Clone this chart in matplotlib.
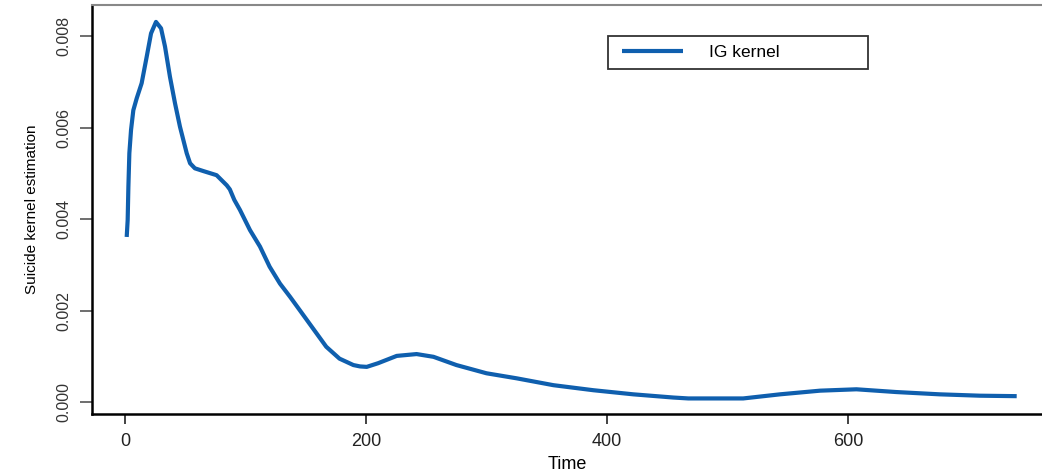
import matplotlib.pyplot as plt

# --- dane ---
time = [1.4, 2.2, 2.8, 3.6, 5, 6.9, 9.7, 13.8, 18, 21.6, 25.7, 29.9, 33.2,
        37.3, 41.5, 45.6, 51.2, 54, 58, 65, 76, 84.4, 87, 90.7, 95.4, 103.7,
        112, 120, 128.6, 137, 145, 156, 167, 178, 189.5, 195, 200.6, 210,
        225.5, 242, 256, 275, 300, 325, 355.5, 388.6, 421.8, 455, 467.5, 513,
        543.6, 576.8, 607, 640, 676, 709.5, 740]
density = [0.00361, 0.00398, 0.00471, 0.00544, 0.00595, 0.00638, 0.00664,
           0.00697, 0.00755, 0.00806, 0.00831, 0.00817, 0.00777, 0.00711,
           0.00653, 0.00602, 0.00544, 0.00522, 0.00511, 0.00505, 0.00496,
           0.00474, 0.00465, 0.00442, 0.0042, 0.00376, 0.0034, 0.00296,
           0.00259, 0.0023, 0.00201, 0.00161, 0.00121, 0.00095, 0.00081,
           0.00078, 0.00077, 0.00085, 0.00101, 0.00105, 0.00099, 0.00081,
           0.00063, 0.00052, 0.00037, 0.00026, 0.00017, 0.0001, 0.00008,
           0.00008, 0.00017, 0.00025, 0.00028, 0.00022, 0.00017, 0.00014,
           0.00013]

LINE_COLOR = '#0f5fae'

plt.rcParams['font.family'] = ['Liberation Sans', 'DejaVu Sans']

fig = plt.figure(figsize=(10.42, 4.76), dpi=100)
ax = fig.add_axes([92 / 1042, 62 / 476, 1 - 92 / 1042, 409 / 476])

ax.plot(time, density, color=LINE_COLOR, lw=3.0, solid_capstyle='butt',
        solid_joinstyle='round', label='IG kernel')

ax.set_xlim(-27.4, 761)
ax.set_ylim(-0.00026, 0.00868)
ax.set_xticks([0, 200, 400, 600])
ax.set_yticks([0.0, 0.002, 0.004, 0.006, 0.008])
ax.set_yticklabels(['0.000', '0.002', '0.004', '0.006', '0.008'])

ax.spines['right'].set_visible(False)
ax.spines['top'].set_color('#888888')
ax.spines['top'].set_linewidth(1.5)
ax.spines['left'].set_linewidth(1.8)
ax.spines['bottom'].set_linewidth(1.8)

ax.tick_params(axis='x', length=7, width=1.2, pad=7, labelsize=13,
               colors='#222222')
ax.tick_params(axis='y', length=9, width=1.2, pad=6, labelsize=11.5,
               labelrotation=90, colors='#555555')
for lab in ax.get_yticklabels():
    lab.set_va('center')
    lab.set_color('#333333')

ax.set_xlabel('Time', fontsize=13, labelpad=4)
ax.set_ylabel('Suicide kernel estimation', fontsize=11, labelpad=12)

# legenda w stylu R (ramka rysowana osobno)
leg = ax.legend(loc='center left', bbox_to_anchor=(622 / 1042, 1 - 52.5 / 476),
                bbox_transform=fig.transFigure, frameon=False, fontsize=12.5,
                handlelength=3.5, handletextpad=1.5, borderaxespad=0,
                borderpad=0)
frame = plt.Rectangle((608 / 1042, 1 - 69 / 476), 260 / 1042, 33 / 476,
                      transform=fig.transFigure, fill=False, ec='#333333',
                      lw=1.3)
fig.add_artist(frame)

fig.savefig('out.png', dpi=100)
